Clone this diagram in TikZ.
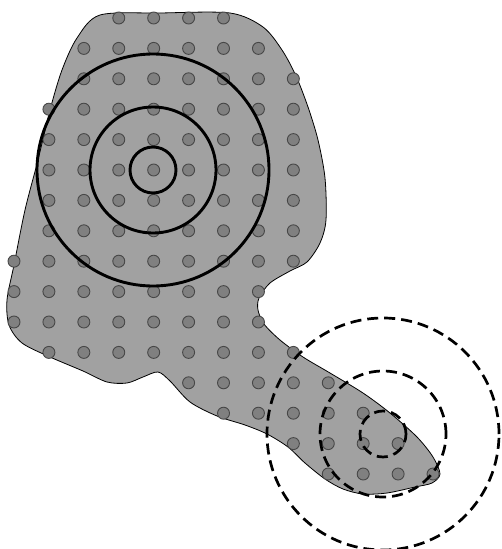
\documentclass[tikz,border=0pt]{standalone}
\begin{document}
\begin{tikzpicture}[x=1pt,y=-1pt,
  blob/.style={fill=black!37,draw=black,line width=0.8pt},
  dot/.style={fill=black!50,draw=black!72,line width=0.9pt},
  ring/.style={draw=black,line width=2.9pt},
  dring/.style={draw=black,line width=2.7pt,dash pattern=on 11pt off 6pt}]
\useasboundingbox (0,0) rectangle (502,549);
% the region
\draw[blob] plot[smooth cycle,tension=0.5] coordinates {
 (100,15) (160,13) (230,13) (263,27) (282,50) (296,76) (308,107) (318,140)
 (325,178) (326,220) (320,243) (307,262) (290,271) (270,283) (259,298)
 (258,310) (264,324) (280,340) (303,357) (330,373) (363,393) (390,413)
 (417,437) (433,457) (440,474) (432,483) (415,487) (387,493) (363,494)
 (343,489) (325,479) (305,463) (288,447) (267,434) (245,425) (217,416)
 (190,402) (170,381) (158,372) (143,377) (127,383) (107,382) (83,371)
 (50,357) (22,343) (9,325) (7,300) (14,265) (25,210) (38,160) (50,110)
 (62,70) (77,38)};
% grid of points
\foreach \r/\a/\b in {0/3/6,1/2/7,2/2/8,3/1/8,4/1/8,5/1/8,6/1/8,7/1/8,
  8/0/8,9/0/7,10/0/7,11/1/8,12/5/9,13/6/10,14/8/11,15/9/12}{
  \foreach \c in {\a,...,\b}{
    \draw[dot] ({14+34.92*\c},{18+30.4*\r}) circle (6pt);
  }
}
% solid rings
\coordinate (sc) at (153,170);
\draw[ring] (sc) circle (23pt);
\draw[ring] (sc) circle (63pt);
\draw[ring] (sc) circle (116pt);
% dashed rings
\coordinate (dc) at (383,434);
\draw[dring] (dc) circle (23pt);
\draw[dring] (dc) circle (63pt);
\draw[dring] (dc) circle (116pt);
\end{tikzpicture}
\end{document}
